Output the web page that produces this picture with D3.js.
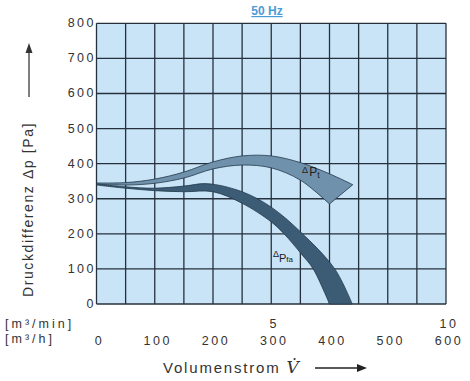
<!DOCTYPE html>
<html>
<head>
<meta charset="utf-8">
<script src="https://cdn.jsdelivr.net/npm/d3@7"></script>
<style>
  body { margin: 0; background: #fff; }
  svg text { font-family: "Liberation Sans", Arial, sans-serif; fill: #333; }
</style>
</head>
<body>
<svg id="chart" width="470" height="381"></svg>
<script>
// ticks
var flowTicks = [0, 100, 200, 300, 400, 500, 600];          // m3/h
var flowMinTicks = [{ v: 300, label: '5' }, { v: 600, label: '10' }]; // m3/min
var pressureTicks = [0, 100, 200, 300, 400, 500, 600, 700, 800];

// ΔPt band (total pressure), upper and lower edge
var ptUpperX = [0, 50, 100, 150, 200, 250, 300, 350, 400, 440];
var ptUpperY = [345, 346, 356, 376, 405, 422, 422, 403, 371, 340];
var ptLowerX = [0, 50, 100, 150, 200, 250, 300, 350, 400];
var ptLowerY = [342, 339, 344, 359, 385, 396, 388, 353, 285];

// ΔPfa band (static pressure), upper and lower edge
var pfaUpperX = [0, 50, 100, 150, 190, 250, 300, 350, 409, 439];
var pfaUpperY = [342, 334, 330, 336, 343, 320, 276, 206, 100, 0];
var pfaLowerX = [0, 50, 100, 150, 200, 250, 300, 322, 352, 372, 400];
var pfaLowerY = [339, 330, 323, 320, 320, 287, 234, 200, 142, 100, 0];

var svg = d3.select('#chart');
var x = d3.scaleLinear().domain([0, 600]).range([96.5, 446]);
var y = d3.scaleLinear().domain([0, 800]).range([304, 23.3]);

// background + grid
svg.append('rect')
  .attr('x', x(0)).attr('y', y(800))
  .attr('width', x(600) - x(0)).attr('height', y(0) - y(800))
  .attr('fill', '#c9e4f7');

var grid = svg.append('g').attr('stroke', '#27313d').attr('stroke-width', 1.3);
d3.range(0, 601, 50).forEach(function(v) {
  grid.append('line')
    .attr('x1', x(v)).attr('x2', x(v))
    .attr('y1', y(0)).attr('y2', y(800));
});
pressureTicks.forEach(function(v) {
  grid.append('line')
    .attr('x1', x(0)).attr('x2', x(600))
    .attr('y1', y(v)).attr('y2', y(v));
});

// bands
var edge = d3.line()
  .x(function(d) { return x(d[0]); })
  .y(function(d) { return y(d[1]); })
  .curve(d3.curveCatmullRom.alpha(0.5));

function bandPath(ux, uy, lx, ly) {
  var upper = d3.zip(ux, uy),
      lower = d3.zip(lx, ly).reverse();
  return edge(upper) + 'L' + edge(lower).slice(1) + 'Z';
}

svg.append('path')
  .attr('d', bandPath(ptUpperX, ptUpperY, ptLowerX, ptLowerY))
  .attr('fill', '#6f91ab')
  .attr('stroke', '#22384b').attr('stroke-width', 0.8);

svg.append('path')
  .attr('d', bandPath(pfaUpperX, pfaUpperY, pfaLowerX, pfaLowerY))
  .attr('fill', '#3c5b74')
  .attr('stroke', '#22384b').attr('stroke-width', 0.8);

// band labels
var lblPt = svg.append('text').attr('x', x(353)).attr('y', y(366)).style('fill', '#222');
lblPt.append('tspan').attr('font-size', 9).attr('dy', -3).text('Δ');
lblPt.append('tspan').attr('font-size', 12).attr('dy', 3).attr('dx', 1).text('P');
lblPt.append('tspan').attr('font-size', 9).attr('dy', 2).text('t');

var lblPfa = svg.append('text').attr('x', x(303)).attr('y', y(120)).style('fill', '#222');
lblPfa.append('tspan').attr('font-size', 9).attr('dy', -5).text('Δ');
lblPfa.append('tspan').attr('font-size', 11).attr('dy', 5).text('P');
lblPfa.append('tspan').attr('font-size', 8).text('fa');

// title
svg.append('text')
  .attr('x', 267).attr('y', 15)
  .attr('text-anchor', 'middle')
  .attr('font-size', 12).attr('font-weight', 'bold')
  .style('fill', '#4a9cd6')
  .style('text-decoration', 'underline')
  .text('50 Hz');

// y tick labels
svg.append('g').selectAll('text')
  .data(pressureTicks)
  .join('text')
    .attr('x', 96)
    .attr('y', function(d) { return y(d) + 4; })
    .attr('text-anchor', 'end')
    .attr('font-size', 12.5)
    .attr('letter-spacing', 2.5)
    .text(function(d) { return d; });

// x tick labels
svg.append('g').selectAll('text')
  .data(flowTicks)
  .join('text')
    .attr('x', function(d) { return x(d) + 3; })
    .attr('y', 345)
    .attr('text-anchor', 'middle')
    .attr('font-size', 12.5)
    .attr('letter-spacing', 2.5)
    .text(function(d) { return d; });

svg.append('g').selectAll('text')
  .data(flowMinTicks)
  .join('text')
    .attr('x', function(d) { return x(d.v) + 3; })
    .attr('y', 328)
    .attr('text-anchor', 'middle')
    .attr('font-size', 12.5)
    .attr('letter-spacing', 2.5)
    .text(function(d) { return d.label; });

svg.append('text').attr('x', 5).attr('y', 328)
  .attr('font-size', 12.5).attr('letter-spacing', 3).text('[m³/min]');
svg.append('text').attr('x', 5).attr('y', 343)
  .attr('font-size', 12.5).attr('letter-spacing', 3).text('[m³/h]');

// x axis title + arrow
var xt = svg.append('text').attr('x', 163).attr('y', 373)
  .attr('font-size', 15).attr('letter-spacing', 1.8);
xt.append('tspan').text('Volumenstrom ');
xt.append('tspan')
  .style('font-family', '"DejaVu Serif", "Liberation Serif", serif')
  .style('font-style', 'italic')
  .attr('font-size', 17)
  .text('V̇');

svg.append('line')
  .attr('x1', 315).attr('x2', 358).attr('y1', 368).attr('y2', 368)
  .attr('stroke', '#222').attr('stroke-width', 1.5);
svg.append('path')
  .attr('d', 'M357,364L367,368L357,372Z').attr('fill', '#222');

// y axis title + arrow
svg.append('text')
  .attr('transform', 'translate(33,297) rotate(-90)')
  .attr('font-size', 14).attr('letter-spacing', 1.6)
  .text('Druckdifferenz Δp [Pa]');

svg.append('line')
  .attr('x1', 29).attr('x2', 29).attr('y1', 97).attr('y2', 52)
  .attr('stroke', '#555').attr('stroke-width', 1.5);
svg.append('path')
  .attr('d', 'M25.5,53L29,43L32.5,53Z').attr('fill', '#333');
</script>
</body>
</html>
